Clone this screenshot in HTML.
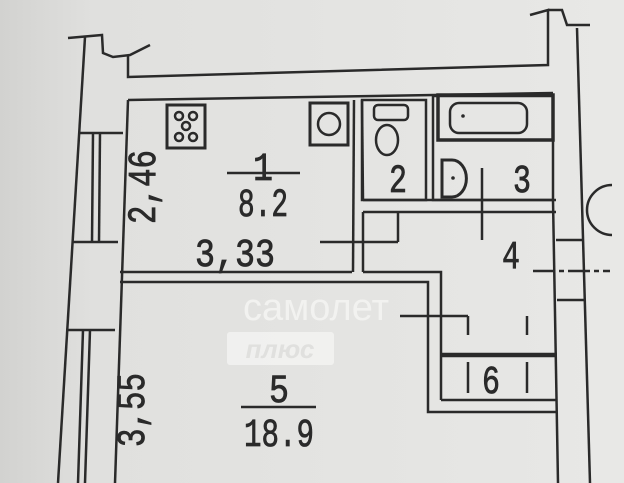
<!DOCTYPE html><html><head><meta charset="utf-8"><style>body{margin:0;background:#e4e4e2}svg{display:block}</style></head><body>
<svg width="624" height="483" viewBox="0 0 624 483" xmlns="http://www.w3.org/2000/svg">
<defs><linearGradient id="bg" x1="0" x2="1"><stop offset="0" stop-color="#d2d2d0"/><stop offset="0.15" stop-color="#e0e0de"/><stop offset="1" stop-color="#e8e8e6"/></linearGradient></defs>
<rect width="624" height="483" fill="url(#bg)"/>
<g stroke="#2a2a2a" stroke-width="2.5" fill="none">
<polyline points="68,38 102,35 103,53 113,57 130,55 150,45"/>
<polyline points="128,55 128,77 548,65 548,10 530,15"/>
<polyline points="548,10 562,10 567,25 590,25"/>
<polyline points="577,28 590,483"/>
<polyline points="85,37 58,483"/>
<line x1="80" y1="133" x2="123" y2="133"/>
<line x1="93" y1="133" x2="92" y2="242"/><line x1="100" y1="133" x2="99" y2="242"/>
<line x1="73" y1="242" x2="118" y2="242"/>
<line x1="66" y1="330" x2="115" y2="330"/>
<line x1="83" y1="330" x2="78" y2="483"/><line x1="90" y1="330" x2="85" y2="483"/>
<line x1="128" y1="100" x2="553" y2="93"/>
<line x1="128" y1="100" x2="115" y2="483"/>
<line x1="354" y1="100" x2="353" y2="272"/><line x1="362" y1="100" x2="363" y2="200"/>
<rect x="362" y="100" width="64" height="100"/>
<rect x="433" y="96" width="120" height="104"/>
<line x1="363" y1="212" x2="556" y2="212"/><line x1="363" y1="200" x2="556" y2="200"/>
<line x1="363" y1="212" x2="363" y2="272"/>
<line x1="320" y1="242" x2="398" y2="242"/><line x1="398" y1="212" x2="398" y2="242"/>
<line x1="482" y1="168" x2="482" y2="240"/>
<polyline points="120,272 352,272"/><polyline points="363,272 441,272 441,400"/>
<polyline points="120,282 428,282 428,412 557,412"/>
<line x1="441" y1="355" x2="557" y2="355" stroke-width="4.5"/>
<line x1="441" y1="400" x2="557" y2="400"/>
<line x1="468" y1="316" x2="468" y2="335"/><line x1="468" y1="362" x2="468" y2="393"/>
<line x1="527" y1="316" x2="527" y2="335"/><line x1="527" y1="362" x2="527" y2="393"/>
<polyline points="400,316 468,316"/>
<line x1="553" y1="200" x2="558" y2="483"/>
<line x1="556" y1="240" x2="583" y2="240"/><line x1="557" y1="300" x2="585" y2="300"/>
<line x1="533" y1="271" x2="610" y2="271" stroke-dasharray="22 4 5 4"/>
<rect x="167" y="105" width="38" height="43" stroke-width="3"/>
<circle cx="179" cy="116" r="4"/><circle cx="193" cy="116" r="4"/><circle cx="179" cy="137" r="4"/><circle cx="193" cy="137" r="4"/><circle cx="186" cy="126" r="4"/>
<rect x="310" y="103" width="38" height="42" stroke-width="3"/><circle cx="329" cy="124" r="11"/>
<rect x="374" y="105" width="34" height="15" rx="4"/>
<ellipse cx="387" cy="140" rx="11" ry="15"/>
<rect x="438" y="95" width="115" height="45" stroke-width="3.5"/><rect x="450" y="103" width="77" height="30" rx="9"/>
<path d="M442,160 H452 A14,18 0 0 1 452,197 H442 Z" stroke-width="3"/>
<path d="M612,185 A25,25 0 0 0 612,235"/>
</g>
<circle cx="463" cy="116" r="1.8" fill="#2a2a2a"/><circle cx="453" cy="178" r="1.8" fill="#2a2a2a"/>
<g font-family="Liberation Mono, monospace" fill="#2a2a2a" stroke="#2a2a2a" stroke-width="0.8" font-size="40" text-anchor="middle">
<text x="263" y="180" textLength="20" lengthAdjust="spacingAndGlyphs">1</text>
<text x="263" y="216" textLength="50" lengthAdjust="spacingAndGlyphs">8.2</text>
<text x="235" y="266" textLength="80" lengthAdjust="spacingAndGlyphs">3,33</text>
<text x="398" y="192" textLength="18" lengthAdjust="spacingAndGlyphs">2</text><text x="522" y="192" textLength="18" lengthAdjust="spacingAndGlyphs">3</text><text x="511" y="268" textLength="18" lengthAdjust="spacingAndGlyphs">4</text>
<text x="279" y="402" textLength="20" lengthAdjust="spacingAndGlyphs">5</text>
<text x="279" y="446" textLength="70" lengthAdjust="spacingAndGlyphs">18.9</text>
<text x="491" y="393" textLength="18" lengthAdjust="spacingAndGlyphs">6</text>
<text transform="translate(155,187) rotate(-90)" textLength="74" lengthAdjust="spacingAndGlyphs">2,46</text>
<text transform="translate(144,410) rotate(-90)" textLength="74" lengthAdjust="spacingAndGlyphs">3,55</text>
</g>
<line x1="227" y1="173" x2="300" y2="173" stroke="#2a2a2a" stroke-width="2.5"/>
<line x1="241" y1="407" x2="316" y2="407" stroke="#2a2a2a" stroke-width="2.5"/>
<text x="316" y="320" font-family="Liberation Sans, sans-serif" font-size="38" fill="#f4f4f2" fill-opacity="0.85" text-anchor="middle">самолет</text>
<rect x="227" y="332" width="107" height="33" rx="3" fill="#f4f4f2" fill-opacity="0.8"/>
<text x="280" y="358" font-family="Liberation Sans, sans-serif" font-size="26" font-weight="bold" font-style="italic" fill="#e0e0de" text-anchor="middle">плюс</text>
</svg></body></html>
